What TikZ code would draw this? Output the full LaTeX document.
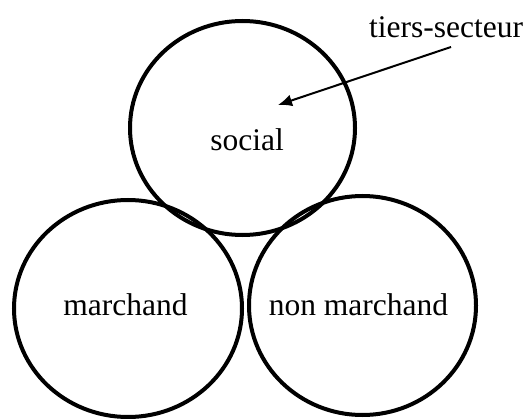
\documentclass[tikz,border=0pt]{standalone}
\usepackage{fontspec}
\setmainfont{Liberation Serif}
\usepackage{tikz}
\usetikzlibrary{arrows.meta,calc}

\tikzset{
  sector/.style={font=\fontsize{31.5}{36}\selectfont, inner sep=2pt},
}

\begin{document}
\begin{tikzpicture}[x=1pt,y=-1pt,line width=4pt]
    \useasboundingbox (0,0) rectangle (526,419);
    \draw (242.5,128) ellipse [x radius=112.5, y radius=107];
    \draw (128,308.5) ellipse [x radius=114, y radius=108.5];
    \draw (362.5,305.5) ellipse [x radius=113.5, y radius=109.5];
    \node[sector] (social) at (247,140) {social};
    \node[sector] (marchand) at (125.5,305) {marchand};
    \node[sector] (nonmarchand) at (358.5,305) {non marchand};
    \node[sector] (tiers) at (446,27) {tiers-secteur};
    \coordinate (tail) at (451,47);
    \coordinate (tip) at (278,105);
    \draw[line width=2pt, -{Latex[length=14pt,width=12pt]}] (tail) -- (tip);
  \end{tikzpicture}
\end{document}
